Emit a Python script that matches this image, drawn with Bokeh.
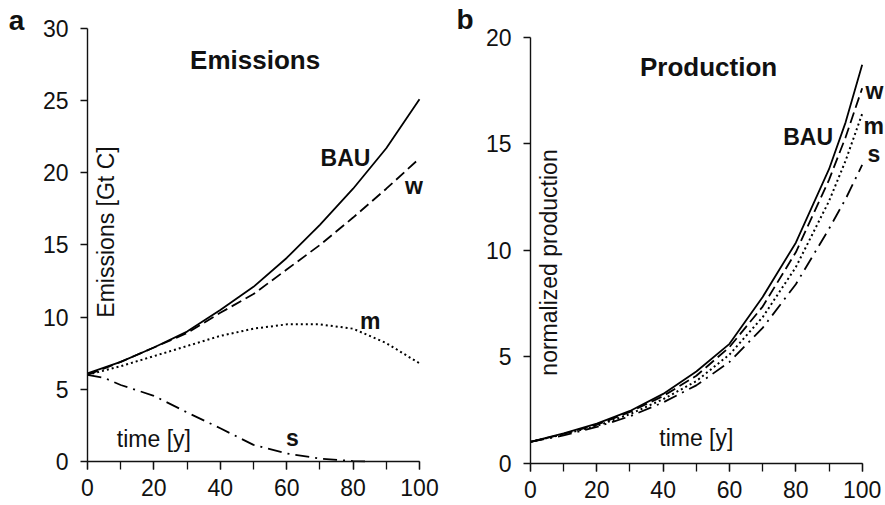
from bokeh.plotting import figure
from bokeh.layouts import row
from bokeh.models import Range1d, SingleIntervalTicker, Label
from bokeh.embed import file_html
from bokeh.resources import INLINE

# ---- data: panel a (Emissions, Gt C) ----
em_t = [0, 10, 20, 30, 40, 50, 60, 70, 80, 90, 100]
em_bau = [6.1, 6.9, 7.9, 9.0, 10.5, 12.1, 14.1, 16.4, 18.9, 21.7, 25.1]
em_w = [6.0, 6.9, 7.9, 8.9, 10.3, 11.6, 13.3, 15.0, 16.9, 18.9, 21.0]
em_m = [6.0, 6.6, 7.3, 8.0, 8.7, 9.2, 9.5, 9.5, 9.2, 8.2, 6.8]
em_s_t = [0, 5, 10, 20, 30, 40, 50, 60, 70, 80, 85]
em_s = [6.0, 5.8, 5.3, 4.55, 3.4, 2.3, 1.15, 0.55, 0.2, 0.03, 0.0]

# ---- data: panel b (normalized production) ----
pr_t = [0, 10, 20, 30, 40, 50, 60, 70, 80, 90, 95, 100]
pr_bau = [1.0, 1.4, 1.85, 2.45, 3.25, 4.3, 5.6, 7.8, 10.35, 13.8, 16.0, 18.7]
pr_w = [1.0, 1.37, 1.8, 2.4, 3.15, 4.1, 5.45, 7.35, 9.9, 13.3, 15.3, 17.6]
pr_m = [1.0, 1.35, 1.75, 2.3, 3.0, 3.85, 5.1, 6.85, 9.2, 12.3, 14.2, 16.4]
pr_s = [1.0, 1.3, 1.7, 2.2, 2.85, 3.65, 4.75, 6.35, 8.4, 11.0, 12.4, 14.0]

FONT = "Liberation Sans"
TXT = "#111111"


def base_fig(width, xr, yr, ymax, yint):
    p = figure(width=width, height=505, x_range=Range1d(*xr), y_range=Range1d(*yr),
               output_backend="svg", toolbar_location=None,
               min_border_left=0, min_border_right=0, min_border_top=0, min_border_bottom=0)
    p.outline_line_color = None
    p.xgrid.grid_line_color = None
    p.ygrid.grid_line_color = None
    p.background_fill_color = "white"
    p.border_fill_color = "white"
    p.xaxis.ticker = SingleIntervalTicker(interval=20, num_minor_ticks=2)
    p.yaxis.ticker = SingleIntervalTicker(interval=yint, num_minor_ticks=0)
    p.xaxis.fixed_location = 0
    p.yaxis.fixed_location = 0
    p.xaxis.bounds = (0, 100)
    p.yaxis.bounds = (0, ymax)
    for ax in (p.xaxis[0], p.yaxis[0]):
        ax.axis_line_color = "#111"
        ax.axis_line_width = 1.4
        ax.major_tick_line_color = "#111"
        ax.minor_tick_line_color = "#111"
        ax.major_tick_line_width = 1.3
        ax.minor_tick_line_width = 1.3
        ax.major_tick_in = 0
        ax.minor_tick_in = 0
        ax.major_label_text_font = FONT
        ax.major_label_text_font_size = "23px"
        ax.major_label_text_color = TXT
    p.xaxis.major_tick_out = 8
    p.xaxis.minor_tick_out = 8
    p.xaxis.major_label_standoff = 10
    p.yaxis.major_tick_out = 7
    p.yaxis.minor_tick_out = 0
    p.yaxis.major_label_standoff = 12
    return p


def lab(p, x, y, text, bold=False, size="23px", align="center", angle=0.0):
    p.add_layout(Label(x=x, y=y, text=text, text_font=FONT, text_font_size=size,
                       text_font_style="bold" if bold else "normal", text_color=TXT,
                       text_align=align, text_baseline="middle", angle=angle))


def curves(p, t, bau, w, m, st, s):
    p.line(t, bau, line_color="black", line_width=1.8)
    p.line(t, w, line_color="black", line_width=1.8, line_dash="11 5")
    p.line(t, m, line_color="black", line_width=2.0, line_dash="2 3")
    p.line(st, s, line_color="black", line_width=1.8, line_dash="14 6 2 6")


# ---- panel a ----
p1 = base_fig(440, (-26.2, 106.33), (-3.05, 31.94), 30, 5)
curves(p1, em_t, em_bau, em_w, em_m, em_s_t, em_s)
lab(p1, 50.5, 27.82, "Emissions", bold=True, size="26px")
lab(p1, 77.7, 21.06, "BAU", bold=True)
lab(p1, 98.3, 19.10, "w", bold=True)
lab(p1, 85.2, 9.74, "m", bold=True)
lab(p1, 61.7, 1.66, "s", bold=True)
lab(p1, 20.0, 1.55, "time [y]")
lab(p1, 5.57, 15.9, "Emissions [Gt C]", angle=1.5707963)
lab(p1, -23.7, 30.54, "a", bold=True, size="28px", align="left")

# ---- panel b ----
p2 = base_fig(445, (-27.13, 107.03), (-1.99, 21.72), 20, 5)
curves(p2, pr_t, pr_bau, pr_w, pr_m, pr_t, pr_s)
lab(p2, 53.7, 18.62, "Production", bold=True, size="26px")
lab(p2, 83.7, 15.29, "BAU", bold=True)
lab(p2, 101.0, 17.47, "w", bold=True, align="left")
lab(p2, 100.4, 15.83, "m", bold=True, align="left")
lab(p2, 101.6, 14.50, "s", bold=True, align="left")
lab(p2, 50.0, 1.20, "time [y]")
lab(p2, 5.64, 9.42, "normalized production", angle=1.5707963)
lab(p2, -22.3, 20.85, "b", bold=True, size="28px", align="left")

layout = row(p1, p2)
open("out.html", "w").write(file_html(layout, INLINE))
